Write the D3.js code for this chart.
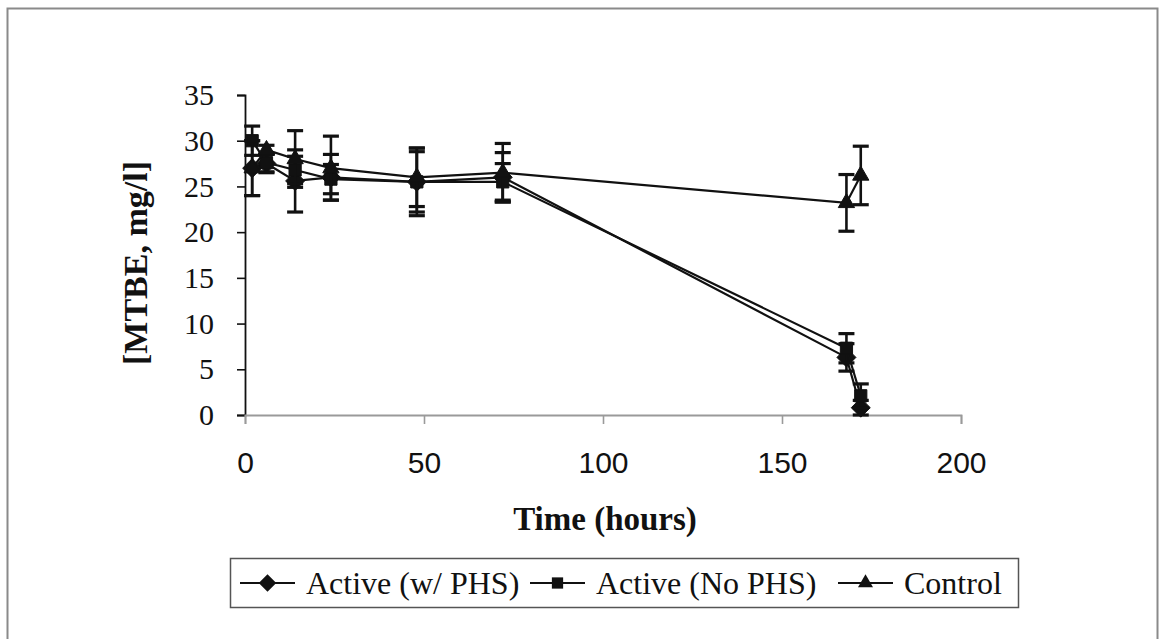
<!DOCTYPE html>
<html>
<head>
<meta charset="utf-8">
<script src="https://cdn.jsdelivr.net/npm/d3@7"></script>
<style>
  html, body { margin: 0; padding: 0; background: #fff; }
  svg { display: block; }
</style>
</head>
<body>
<svg id="chart" width="1165" height="639"></svg>
<script>
// Sampling times (hours)
const times = [2, 6, 14, 24, 48, 72, 168, 172];

// MTBE concentration (mg/l) and error bar half-widths per series
const activePHS      = [27.0, 27.5, 25.6, 26.0, 25.5, 26.0, 6.3, 0.8];
const activePHSErr   = [3.0, 1.0, 3.4, 2.5, 3.3, 2.7, 1.5, 0.8];
const activeNoPHS    = [30.0, 27.6, 26.8, 25.8, 25.5, 25.5, 7.3, 2.1];
const activeNoPHSErr = [1.6, 1.0, 1.5, 1.6, 3.7, 2.0, 1.6, 1.3];
const control        = [27.0, 29.0, 28.0, 27.0, 26.0, 26.5, 23.2, 26.2];
const controlErr     = [3.0, 0.5, 3.1, 3.5, 3.2, 3.2, 3.1, 3.2];

const seriesNames = ["Active (w/ PHS)", "Active (No PHS)", "Control"];
const xTicks = [0, 50, 100, 150, 200];
const yTicks = [0, 5, 10, 15, 20, 25, 30, 35];

const series = [
  { name: seriesNames[0], values: activePHS, err: activePHSErr, symbol: d3.symbolDiamond2, size: 230 },
  { name: seriesNames[1], values: activeNoPHS, err: activeNoPHSErr, symbol: d3.symbolSquare2, size: 190 },
  { name: seriesNames[2], values: control, err: controlErr, symbol: d3.symbolTriangle2, size: 190 }
];

const svg = d3.select("#chart");

// Outer frame
svg.append("rect")
  .attr("x", 7.5).attr("y", 8.5).attr("width", 1150).attr("height", 640)
  .attr("fill", "none").attr("stroke", "#8a8a8a").attr("stroke-width", 2);

const x = d3.scaleLinear().domain([0, 200]).range([245, 961]);
const y = d3.scaleLinear().domain([0, 35]).range([415, 95]);

// Y axis
const yAxis = svg.append("g")
  .attr("transform", `translate(${x(0)},0)`)
  .call(d3.axisLeft(y).tickValues(yTicks).tickSize(8).tickPadding(23).tickFormat(d3.format("d")));
yAxis.select(".domain").attr("stroke", "#111").attr("stroke-width", 1.8);
yAxis.selectAll(".tick line").attr("stroke", "#111").attr("stroke-width", 1.6);
yAxis.selectAll("text")
  .attr("font-family", "Liberation Serif, Times New Roman, serif")
  .attr("font-size", 30).attr("fill", "#111");

// X axis
const xAxis = svg.append("g")
  .attr("transform", `translate(0,${y(0)})`)
  .call(d3.axisBottom(x).tickValues(xTicks).tickSize(9).tickSizeOuter(9).tickPadding(28).tickFormat(d3.format("d")));
xAxis.select(".domain").attr("stroke", "#9a9a9a").attr("stroke-width", 1.8);
xAxis.selectAll(".tick line").attr("stroke", "#9a9a9a").attr("stroke-width", 1.6);
xAxis.selectAll("text")
  .attr("font-family", "Liberation Sans, Arial, sans-serif")
  .attr("font-size", 30).attr("fill", "#111");

// Axis titles
svg.append("text")
  .attr("transform", `translate(147,${(y(0) + y(35)) / 2 + 8}) rotate(-90)`)
  .attr("text-anchor", "middle")
  .attr("font-family", "Liberation Serif, Times New Roman, serif")
  .attr("font-weight", "bold").attr("font-size", 34).attr("fill", "#111")
  .text("[MTBE, mg/l]");

svg.append("text")
  .attr("x", 605).attr("y", 530)
  .attr("text-anchor", "middle")
  .attr("font-family", "Liberation Serif, Times New Roman, serif")
  .attr("font-weight", "bold").attr("font-size", 33).attr("fill", "#111")
  .text("Time (hours)");

// Series: line, error bars, markers
const line = d3.line().x(d => x(d.t)).y(d => y(d.v));
const capW = 8;

series.forEach(s => {
  const pts = times.map((t, i) => ({ t, v: s.values[i], e: s.err[i] }));
  const g = svg.append("g");

  g.append("path")
    .datum(pts)
    .attr("d", line)
    .attr("fill", "none").attr("stroke", "#111").attr("stroke-width", 2.2);

  const eb = g.selectAll(".eb").data(pts).enter().append("g");
  eb.append("line")
    .attr("x1", d => x(d.t)).attr("x2", d => x(d.t))
    .attr("y1", d => y(d.v + d.e)).attr("y2", d => y(d.v - d.e))
    .attr("stroke", "#111").attr("stroke-width", 2.6);
  eb.append("line")
    .attr("x1", d => x(d.t) - capW).attr("x2", d => x(d.t) + capW)
    .attr("y1", d => y(d.v + d.e)).attr("y2", d => y(d.v + d.e))
    .attr("stroke", "#111").attr("stroke-width", 3.2);
  eb.append("line")
    .attr("x1", d => x(d.t) - capW).attr("x2", d => x(d.t) + capW)
    .attr("y1", d => y(d.v - d.e)).attr("y2", d => y(d.v - d.e))
    .attr("stroke", "#111").attr("stroke-width", 3.2);

  g.selectAll(".mk").data(pts).enter().append("path")
    .attr("transform", d => `translate(${x(d.t)},${y(d.v)})`)
    .attr("d", d3.symbol().type(s.symbol).size(s.size))
    .attr("fill", "#111").attr("stroke", "#111").attr("stroke-width", 1);
});

// Legend
const legend = svg.append("g");
legend.append("rect")
  .attr("x", 230.5).attr("y", 558.5).attr("width", 788).attr("height", 49)
  .attr("fill", "#fff").attr("stroke", "#555").attr("stroke-width", 1.5);

const legendX = [240, 530, 838];
series.forEach((s, i) => {
  const lx = legendX[i];
  const cy = 583;
  legend.append("line")
    .attr("x1", lx).attr("x2", lx + 55).attr("y1", cy).attr("y2", cy)
    .attr("stroke", "#111").attr("stroke-width", 2.2);
  legend.append("path")
    .attr("transform", `translate(${lx + 27.5},${cy})`)
    .attr("d", d3.symbol().type(s.symbol).size(s.size * 0.85))
    .attr("fill", "#111");
  legend.append("text")
    .attr("x", lx + 66).attr("y", cy + 11)
    .attr("font-family", "Liberation Serif, Times New Roman, serif")
    .attr("font-size", 32).attr("fill", "#111")
    .text(s.name);
});
</script>
</body>
</html>
